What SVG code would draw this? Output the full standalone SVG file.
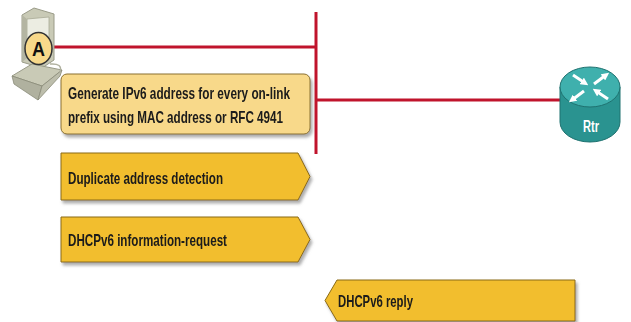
<svg xmlns="http://www.w3.org/2000/svg" width="631" height="322" viewBox="0 0 631 322">
<defs>
<filter id="sh" x="-5%" y="-10%" width="112%" height="135%">
<feDropShadow dx="2" dy="3" stdDeviation="1.5" flood-color="#777" flood-opacity="0.6"/>
</filter>
<marker id="ah" viewBox="0 0 10 10" refX="5" refY="5" markerWidth="2.6" markerHeight="2.6" orient="auto">
<path d="M0,0 L10,5 L0,10 z" fill="#fff"/>
</marker>
<style>
.lnk{stroke:#c0142c;stroke-width:3;fill:none}
.lbl{font-family:"Liberation Sans",Arial,sans-serif;font-weight:bold;font-size:17px;fill:#1a1a1a}
.gold{fill:#f2be2e;stroke:#8a6a14;stroke-width:1}
.pale{fill:#f8d98a;stroke:#8a7030;stroke-width:1}
.arr{stroke:#fff;stroke-width:3;fill:none;marker-end:url(#ah)}
.pc{fill:#c9cab6;stroke:#9a9b88;stroke-width:1}
</style>
</defs>
<rect width="631" height="322" fill="#fff"/>

<g id="connectors">
<line class="lnk" x1="50" y1="47" x2="316" y2="47"/>
<line class="lnk" x1="316" y1="12" x2="316" y2="154"/>
<line class="lnk" x1="316" y1="100" x2="562" y2="100"/>
</g>

<g id="hostA">
<polygon class="pc" points="22,15 34,8 54,14 54,60 42,68 22,62"/>
<polygon points="27,19 49,17 49,56 27,58" fill="#ecede2" stroke="#a8a996" stroke-width="0.8"/>
<polygon points="22,15 27,19 27,58 22,62" fill="#b4b5a2"/>
<polygon class="pc" points="12,76 32,64 62,70 42,86"/>
<polygon points="12,76 42,86 38,100 14,84" fill="#b0b19f" stroke="#8a8b78" stroke-width="0.8"/>
<polygon points="42,86 62,70 60,76 38,100" fill="#bdbeac" stroke="#8a8b78" stroke-width="0.8"/>
<path d="M50,64 Q63,63 60,72" fill="none" stroke="#b0b19f" stroke-width="1.5"/>
<ellipse cx="38.5" cy="48.5" rx="13.5" ry="16" fill="#f8d98a" stroke="#333" stroke-width="1.5"/>
<text x="38.5" y="56" text-anchor="middle" textLength="13" lengthAdjust="spacingAndGlyphs" style="font-family:'Liberation Sans',Arial,sans-serif;font-weight:bold;font-size:21px;fill:#111">A</text>
</g>

<g id="router">
<path d="M560,87 L560,122 A30,20 0 0 0 620,122 L620,87 Z" fill="#2a9390" stroke="#1f7270" stroke-width="1"/>
<ellipse cx="590" cy="87" rx="30" ry="20" fill="#3fb0ad" stroke="#1f7270" stroke-width="1"/>
<line class="arr" x1="573" y1="75" x2="585" y2="83"/>
<line class="arr" x1="594" y1="84" x2="606" y2="75"/>
<line class="arr" x1="584" y1="91" x2="572" y2="100"/>
<line class="arr" x1="608" y1="99" x2="596" y2="91"/>
<text x="591" y="132" text-anchor="middle" textLength="16" lengthAdjust="spacingAndGlyphs" style="font-family:'Liberation Sans',Arial,sans-serif;font-weight:bold;font-size:16px;fill:#fff">Rtr</text>
</g>

<g id="step1" filter="url(#sh)">
<rect class="pale" x="61" y="74" width="249" height="60" rx="6"/>
<text class="lbl" x="68" y="99" textLength="222" lengthAdjust="spacingAndGlyphs">Generate IPv6 address for every on-link</text>
<text class="lbl" x="68" y="123" textLength="215" lengthAdjust="spacingAndGlyphs">prefix using MAC address or RFC 4941</text>
</g>

<g id="step2" filter="url(#sh)">
<polygon class="gold" points="61,153 298,153 310,176.5 298,200 61,200"/>
<text class="lbl" x="68" y="184" textLength="155" lengthAdjust="spacingAndGlyphs">Duplicate address detection</text>
</g>

<g id="step3" filter="url(#sh)">
<polygon class="gold" points="61,217 298,217 310,239.5 298,262 61,262"/>
<text class="lbl" x="68" y="246" textLength="159" lengthAdjust="spacingAndGlyphs">DHCPv6 information-request</text>
</g>

<g id="step4" filter="url(#sh)">
<polygon class="gold" points="337,280 575,280 575,321 337,321 325,300.5"/>
<text class="lbl" x="338" y="307" textLength="75" lengthAdjust="spacingAndGlyphs">DHCPv6 reply</text>
</g>
</svg>
